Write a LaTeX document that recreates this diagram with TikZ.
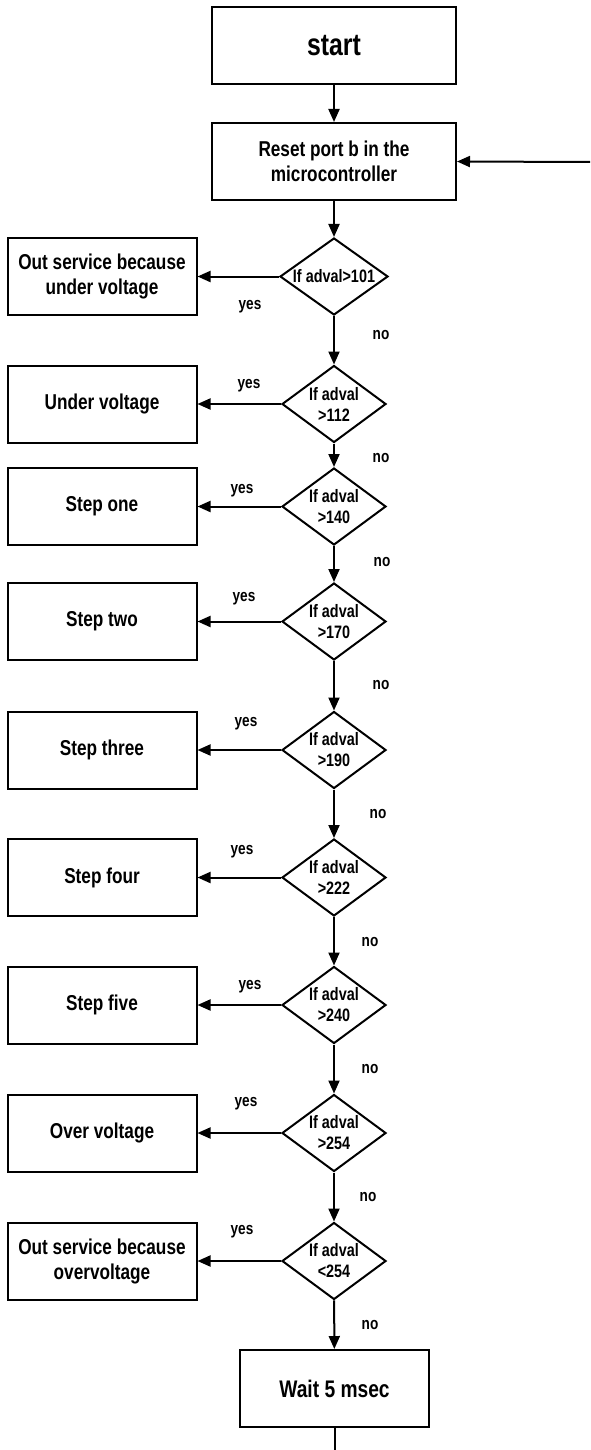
\documentclass[tikz,border=0pt]{standalone}
\usepackage{fontspec}
\setmainfont[FakeStretch=0.8]{Liberation Sans}
\usetikzlibrary{shapes.geometric,arrows.meta}

\begin{document}
\begin{tikzpicture}[x=1pt,y=-1pt,
  box/.style={draw, line width=2pt, minimum width=189pt, minimum height=77pt,
    inner sep=2pt, align=center, font=\fontsize{21.5}{25}\selectfont\bfseries},
  bigbox/.style={box, minimum width=244pt},
  dec/.style={draw, diamond, line width=2pt, minimum width=104pt,
    minimum height=77pt, inner sep=0pt},
  dtext/.style={align=center, inner sep=0pt, font=\fontsize{18}{21}\selectfont\bfseries},
  lbl/.style={inner sep=0pt, font=\fontsize{17}{20}\selectfont\bfseries},
  arr/.style={line width=2pt, -{Triangle[length=13pt,width=11pt]}},
  wire/.style={line width=2pt}]
\useasboundingbox (0,0) rectangle (590,1450);

% main column
\node[bigbox, font=\fontsize{31}{36}\selectfont\bfseries] (start) at (334,46) {start};
\node[bigbox] (reset) at (334,161.5) {Reset port b in the\\microcontroller};

\node[dec, minimum width=108pt, label={[dtext]center:{If adval>101}}] (d1) at (334,276.5) {};
\node[dec, label={[dtext]center:{If adval\\>112}}] (d2) at (334,404) {};
\node[dec, label={[dtext]center:{If adval\\>140}}] (d3) at (334,506.5) {};
\node[dec, label={[dtext]center:{If adval\\>170}}] (d4) at (334,621.5) {};
\node[dec, label={[dtext]center:{If adval\\>190}}] (d5) at (334,750) {};
\node[dec, label={[dtext]center:{If adval\\>222}}] (d6) at (334,877.5) {};
\node[dec, label={[dtext]center:{If adval\\>240}}] (d7) at (334,1005) {};
\node[dec, label={[dtext]center:{If adval\\>254}}] (d8) at (334,1133) {};
\node[dec, label={[dtext]center:{If adval\\<254}}] (d9) at (334,1261) {};

\node[box, font=\fontsize{24}{28}\selectfont\bfseries] (wait) at (334.5,1388.5) {Wait 5 msec};

% outcome boxes
\node[box] (b1) at (102,276.5) {Out service because\\under voltage};
\node[box] (b2) at (102,404) {Under voltage};
\node[box] (b3) at (102,506.5) {Step one};
\node[box] (b4) at (102,621.5) {Step two};
\node[box] (b5) at (102,750) {Step three};
\node[box] (b6) at (102,877.5) {Step four};
\node[box] (b7) at (102,1005) {Step five};
\node[box] (b8) at (102,1133) {Over voltage};
\node[box] (b9) at (102,1261) {Out service because\\overvoltage};

% loop ends
\coordinate (back) at (590,162);
\coordinate (tail) at (334.5,1450);

% vertical flow
\draw[arr] (start) -- (reset);
\draw[arr] (reset) -- (d1);
\draw[arr] (d1) -- (d2);
\draw[arr] (d2) -- (d3);
\draw[arr] (d3) -- (d4);
\draw[arr] (d4) -- (d5);
\draw[arr] (d5) -- (d6);
\draw[arr] (d6) -- (d7);
\draw[arr] (d7) -- (d8);
\draw[arr] (d8) -- (d9);
\draw[arr] (d9) -- (wait);
\draw[wire] (wait.south) -- (tail);
\draw[arr] (back) -- (reset.east);

% yes branches
\foreach \i in {1,...,9} {
  \draw[arr] (d\i.west) -- (b\i.east);
}

% branch labels
\node[lbl] (y1) at (250,307) {yes};
\node[lbl] (y2) at (249,386) {yes};
\node[lbl] (y3) at (242,491) {yes};
\node[lbl] (y4) at (244,599) {yes};
\node[lbl] (y5) at (246,724) {yes};
\node[lbl] (y6) at (242,852) {yes};
\node[lbl] (y7) at (250,987) {yes};
\node[lbl] (y8) at (246,1104) {yes};
\node[lbl] (y9) at (242,1232) {yes};

\node[lbl] (n1) at (381,335) {no};
\node[lbl] (n2) at (381,458) {no};
\node[lbl] (n3) at (382,562) {no};
\node[lbl] (n4) at (381,685) {no};
\node[lbl] (n5) at (378,814) {no};
\node[lbl] (n6) at (370,942) {no};
\node[lbl] (n7) at (370,1069) {no};
\node[lbl] (n8) at (368,1197) {no};
\node[lbl] (n9) at (370,1325) {no};
\end{tikzpicture}
\end{document}
